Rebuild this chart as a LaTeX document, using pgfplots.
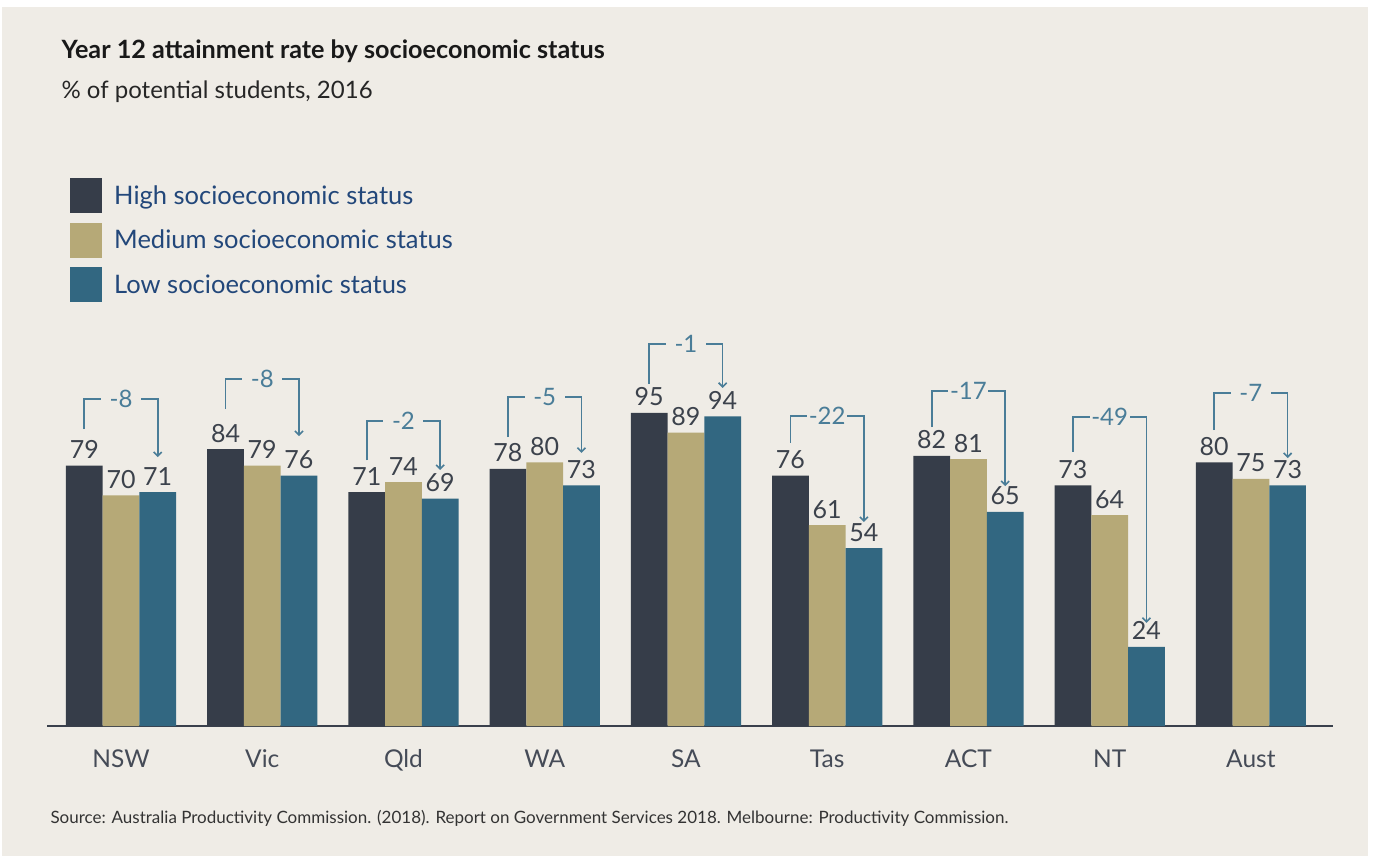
\documentclass[border=0pt]{standalone}
\usepackage{pgfplots}
\pgfplotsset{compat=1.18}
\usepackage{fontspec}
\setmainfont{Lato}
\usetikzlibrary{arrows.meta}

\definecolor{bg}{HTML}{EFECE6}
\definecolor{highc}{HTML}{363D49}
\definecolor{medc}{HTML}{B6A977}
\definecolor{lowc}{HTML}{326781}
\definecolor{annotc}{HTML}{4A7D98}
\definecolor{legc}{HTML}{22477A}
\definecolor{valc}{HTML}{3C424C}
\definecolor{tickc}{HTML}{454B57}
\definecolor{axisc}{HTML}{3A404C}

% bracket: group x, start, top, arrow tip, difference label
\newcommand{\gap}[5]{%
  \draw[annotc, line width=1.6pt, -{Straight Barb[length=4pt,width=8pt]}]
    (axis cs:#1-0.26,#2) |- (axis cs:#1+0.26,#3) -- (axis cs:#1+0.26,#4);
  \node[fill=bg, minimum width=40pt, inner sep=0pt, text=annotc,
        font=\fontsize{24}{28}\selectfont] at (axis cs:#1,#3) {#5};}

\begin{document}
\begin{tikzpicture}
\useasboundingbox (0,0) rectangle (1375pt,-856pt);
\fill[white] (0,0) rectangle (1375pt,-856pt);
\fill[bg] (2pt,-7pt) rectangle (1368pt,-856pt);

\node[anchor=base west, font=\fontsize{25.2}{30}\selectfont\bfseries, text=black!90]
  at (58pt,-59pt) {Year 12 attainment rate by socioeconomic status};
\node[anchor=base west, font=\fontsize{24}{28}\selectfont, text=black!85]
  at (58pt,-99pt) {\% of potential students, 2016};
\node[anchor=base west, font=\fontsize{17}{20}\selectfont, text=black!80]
  at (47pt,-823pt) {Source: Australia Productivity Commission. (2018). Report on Government Services 2018. Melbourne: Productivity Commission.};

\begin{axis}[
    at={(47pt,-726pt)}, anchor=south west,
    width=1286pt, height=329.5pt, scale only axis,
    xmin=-0.524, xmax=8.581, ymin=0, ymax=100,
    ybar=0pt, bar width=0.26,
    axis x line=bottom, axis y line=none,
    axis line style={-},
    x axis line style={line width=2.5pt, draw=axisc},
    xtick={0,...,8},
    xticklabels={NSW,Vic,Qld,WA,SA,Tas,ACT,NT,Aust},
    major tick length=0pt,
    xticklabel style={font=\fontsize{24.5}{28}\selectfont, text=tickc, anchor=base, yshift=-41pt},
    ytick=\empty,
    clip=false,
    nodes near coords,
    every node near coord/.append style={font=\fontsize{25}{30}\selectfont, text=valc, anchor=base, yshift=7pt},
    /pgf/number format/assume math mode=true,
    legend image code/.code={\fill[#1] (0pt,-17.5pt) rectangle (32pt,17.5pt);},
    legend style={at={(axis description cs:0.0179,1.663)}, anchor=north west,
        draw=none, fill=none, inner sep=0pt, row sep=9.5pt, column sep=10pt,
        font=\fontsize{25.5}{30}\selectfont, text=legc},
    legend cell align=left,
]
\addplot[fill=highc, draw=none] coordinates {(0,79) (1,84) (2,71) (3,78) (4,95) (5,76) (6,82) (7,73) (8,80)};
\addplot[fill=medc, draw=none] coordinates {(0,70) (1,79) (2,74) (3,80) (4,89) (5,61) (6,81) (7,64) (8,75)};
\addplot[fill=lowc, draw=none] coordinates {(0,71) (1,76) (2,69) (3,73) (4,94) (5,54) (6,65) (7,24) (8,73)};
\legend{High socioeconomic status, Medium socioeconomic status, Low socioeconomic status}

\gap{0}{90.1}{99.2}{81.6}{-8}
\gap{1}{96.2}{105.3}{88.0}{-8}
\gap{2}{80.6}{92.6}{77.7}{-2}
\gap{3}{87.7}{99.85}{82.9}{-5}
\gap{4}{103.8}{115.9}{102.6}{-1}
\gap{5}{85.9}{94.1}{61.9}{-22}
\gap{6}{90.7}{101.7}{72.8}{-17}
\gap{7}{83.2}{93.8}{31.3}{-49}
\gap{8}{89.8}{101.1}{81.3}{-7}
\end{axis}
\end{tikzpicture}
\end{document}
